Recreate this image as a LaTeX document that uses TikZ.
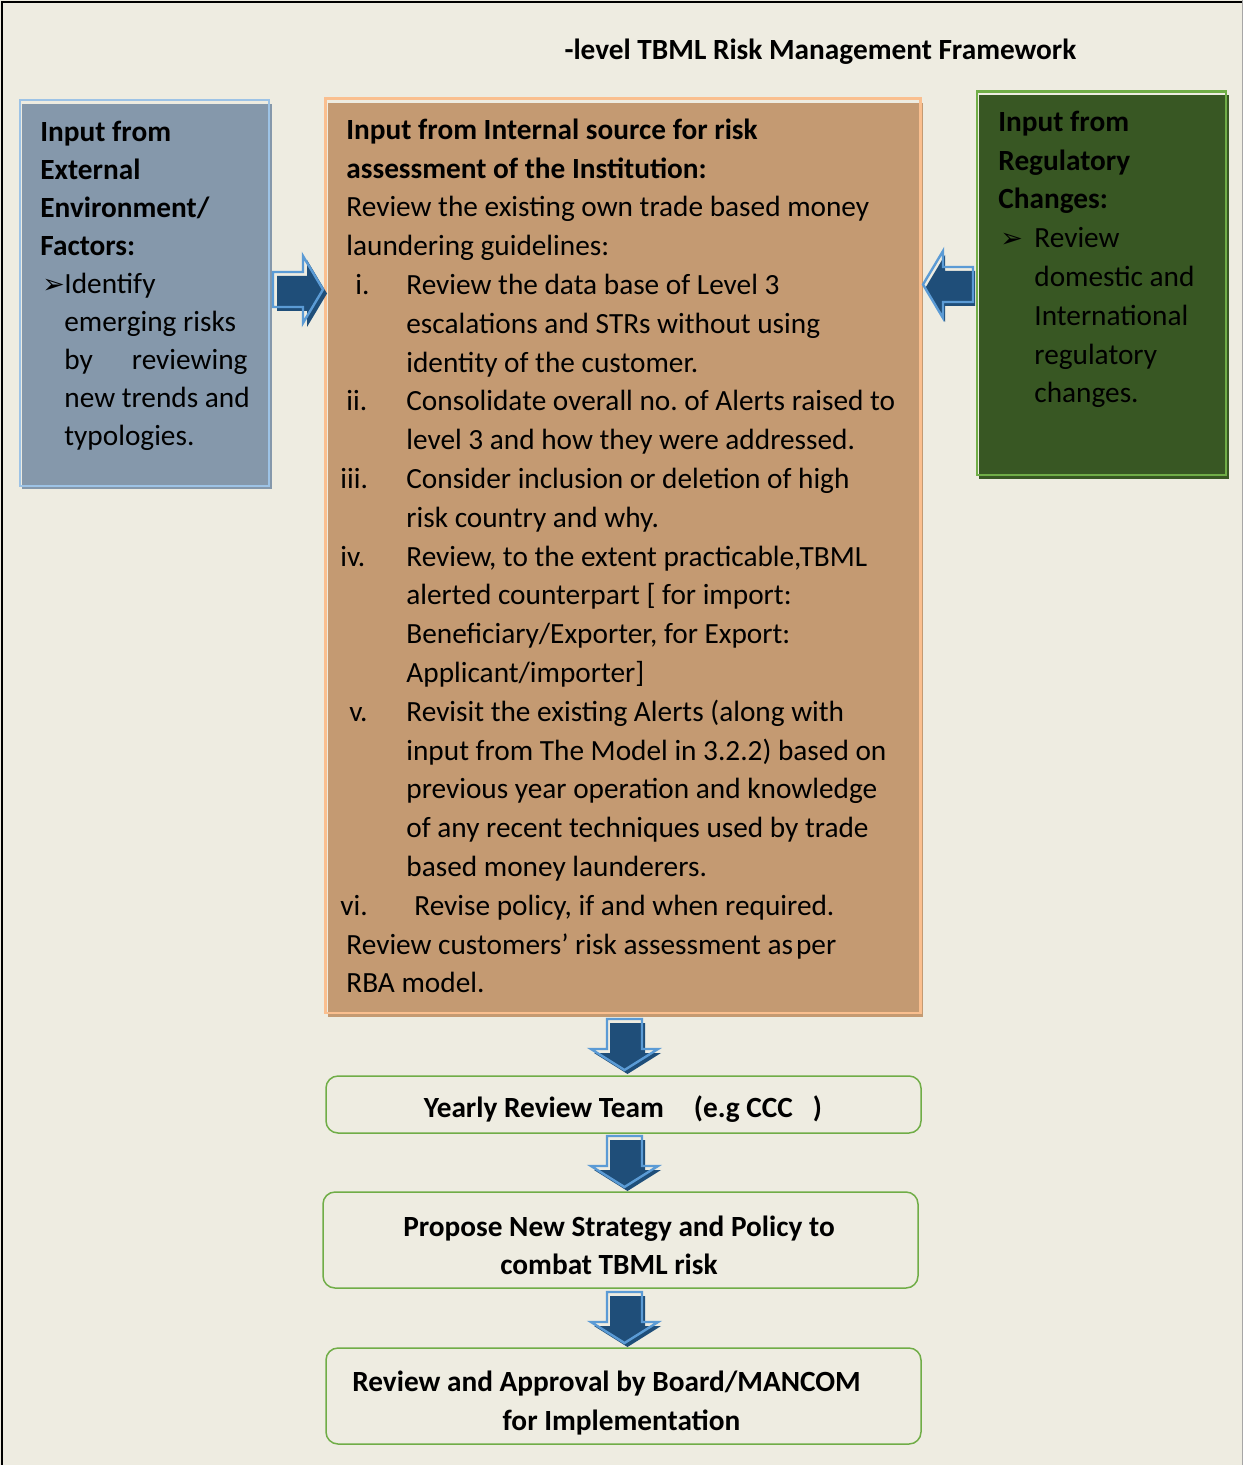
\documentclass[tikz,border=0pt]{standalone}
\usepackage{fontspec}
\setmainfont{Carlito}
\newfontfamily\symfont{DejaVu Sans}
\frenchspacing

\definecolor{pagebg}{HTML}{EEECE1}
\definecolor{extfill}{HTML}{8598AB}
\definecolor{extline}{HTML}{9DC3E6}
\definecolor{intfill}{HTML}{C49A72}
\definecolor{intline}{HTML}{FABF8F}
\definecolor{regfill}{HTML}{385723}
\definecolor{regline}{HTML}{70AD47}
\definecolor{stepline}{HTML}{70AD47}
\definecolor{arrowdark}{HTML}{1F4E79}
\definecolor{arrowedge}{HTML}{5B9BD5}

% numbered item: label shifted by #1, item text indented
\newcommand\rn[2]{\makebox[0pt][l]{\hspace*{#1}#2}\hspace*{30pt}}
% arrow bullet: glyph shifted by #1 inside a box of width #2
\newcommand\bul[2]{\makebox[#2][l]{\hspace*{#1}{\symfont\fontsize{13.5pt}{13.5pt}\selectfont ➢}}}

\tikzset{
  body/.style={inner sep=0pt, anchor=north west, align=left,
    font=\fontsize{14.65pt}{19.4pt}\selectfont},
  bodytight/.style={body, font=\fontsize{14.65pt}{19pt}\selectfont},
  boldline/.style={inner sep=0pt, anchor=base,
    font=\fontsize{14.65pt}{19.4pt}\selectfont\bfseries},
  stepbox/.style={draw=stepline, line width=0.75pt, rounded corners=6pt, fill=pagebg},
  pics/downblk/.style={code={
    \fill[arrowdark, shift={(3,4)}] (-17.5,0) -- (17.5,0) -- (17.5,30) -- (33.5,30)
      -- (0,51) -- (-33.5,30) -- (-17.5,30) -- cycle;
    \draw[arrowedge, line width=1.2pt, line join=miter] (-17.5,0) -- (17.5,0) -- (17.5,30) -- (33.5,30)
      -- (0,51) -- (-33.5,30) -- (-17.5,30) -- cycle;
  }},
  pics/rightblk/.style={code={
    \fill[arrowdark, shift={(4,4)}] (0,-17.5) -- (30,-17.5) -- (30,-33.5) -- (50,0)
      -- (30,33.5) -- (30,17.5) -- (0,17.5) -- cycle;
    \draw[arrowedge, line width=1.2pt, line join=miter] (0,-17.5) -- (30,-17.5) -- (30,-33.5) -- (50,0)
      -- (30,33.5) -- (30,17.5) -- (0,17.5) -- cycle;
  }},
  pics/leftblk/.style={code={
    \fill[arrowdark, shift={(2,4)}] (0,-17.5) -- (-30,-17.5) -- (-30,-33.5) -- (-50,0)
      -- (-30,33.5) -- (-30,17.5) -- (0,17.5) -- cycle;
    \draw[arrowedge, line width=1.2pt, line join=miter] (0,-17.5) -- (-30,-17.5) -- (-30,-33.5) -- (-50,0)
      -- (-30,33.5) -- (-30,17.5) -- (0,17.5) -- cycle;
  }},
}

\begin{document}
\begin{tikzpicture}[x=0.5pt, y=-0.5pt]
\useasboundingbox (0,0) rectangle (1243,1465);
\fill[pagebg] (0,0) rectangle (1243,1465);
% page frame
\draw[line width=1.1pt] (1.8,1465) -- (1.8,1.8) -- (1242,1.8);
\draw[gray!70, line width=0.6pt] (1242.3,0) -- (1242.3,1465);

% title
\node[boldline] (title) at (820.5,60) {-level TBML Risk Management Framework};

% external input box
\fill[extfill] (22,104) rectangle (272,489);
\draw[extline, line width=1pt] (20,100) rectangle (269,486);
\node[bodytight] (ext) at (40,114.4) {%
\strut\textbf{Input from}\\
\textbf{External}\\
\textbf{Environment/}\\
\textbf{Factors:}\\
\bul{1pt}{12pt}Identify\\
\hspace*{12pt}emerging risks\\
\hspace*{12pt}\makebox[91.5pt]{by\hfill reviewing}\\
\hspace*{12pt}new trends and\\
\hspace*{12pt}typologies.};

% internal input box
\fill[intfill] (327.5,103) rectangle (923,1017);
\draw[intline, line width=1.2pt] (325.5,98.5) rectangle (920.5,1013);
\node[body] (int) at (346,111.8) {%
\strut\textbf{Input from Internal source for risk}\\
\textbf{assessment of the Institution:}\\
Review the existing own trade based money\\
laundering guidelines:\\
\rn{4.5pt}{i.}Review the data base of Level 3\\
\hspace*{30pt}escalations and STRs without using\\
\hspace*{30pt}identity of the customer.\\
\rn{0pt}{ii.}Consolidate overall no. of Alerts raised to\\
\hspace*{30pt}level 3 and how they were addressed.\\
\rn{-3pt}{iii.}Consider inclusion or deletion of high\\
\hspace*{30pt}risk country and why.\\
\rn{-3pt}{iv.}Review, to the extent practicable,TBML\\
\hspace*{30pt}alerted counterpart [ for import:\\
\hspace*{30pt}Beneficiary/Exporter, for Export:\\
\hspace*{30pt}Applicant/importer]\\
\rn{1.5pt}{v.}Revisit the existing Alerts (along with\\
\hspace*{30pt}input from The Model in 3.2.2) based on\\
\hspace*{30pt}previous year operation and knowledge\\
\hspace*{30pt}of any recent techniques used by trade\\
\hspace*{30pt}based money launderers.\\
\makebox[0pt][l]{\hspace*{-3pt}vi.}\hspace*{34pt}Revise policy, if and when required.\\
Review customers' risk assessment as\hspace{1.5pt}per\\
RBA model.};

% regulatory input box
\fill[regfill] (979,95.5) rectangle (1229,479);
\draw[regline, line width=1.2pt] (976.7,91.7) rectangle (1226.2,475);
\node[body] (reg) at (998,103.8) {%
\strut\textbf{Input from}\\
\textbf{Regulatory}\\
\textbf{Changes:}\\
\bul{1pt}{18pt}Review\\
\hspace*{18pt}domestic and\\
\hspace*{18pt}International\\
\hspace*{18pt}regulatory\\
\hspace*{18pt}changes.};

% side arrows feeding the internal box
\pic (extarrow) at (273,289.5) {rightblk};
\pic (regarrow) at (973,284.5) {leftblk};

% review steps
\node[stepbox, minimum width=297.5pt, minimum height=28.5pt] (team) at (623.5,1104.5) {};
\node[boldline] (teamtxt) at (623,1117) {Yearly Review Team\hspace{15pt}(e.g CCC\hspace{10pt})};

\node[stepbox, minimum width=297.5pt, minimum height=48pt] (strategy) at (620.5,1240) {};
\node[boldline] (strat1) at (619,1236) {Propose New Strategy and Policy to};
\node[boldline] (strat2) at (609,1274) {combat TBML risk};

\node[stepbox, minimum width=297.5pt, minimum height=48pt] (approval) at (623.5,1396) {};
\node[boldline] (appr1) at (606.5,1391) {Review and Approval by Board/MANCOM};
\node[boldline] (appr2) at (621.5,1430) {for Implementation};

% downward flow arrows
\pic (down1) at (624.5,1019) {downblk};
\pic (down2) at (624.5,1136) {downblk};
\pic (down3) at (624.5,1292) {downblk};
\end{tikzpicture}
\end{document}
